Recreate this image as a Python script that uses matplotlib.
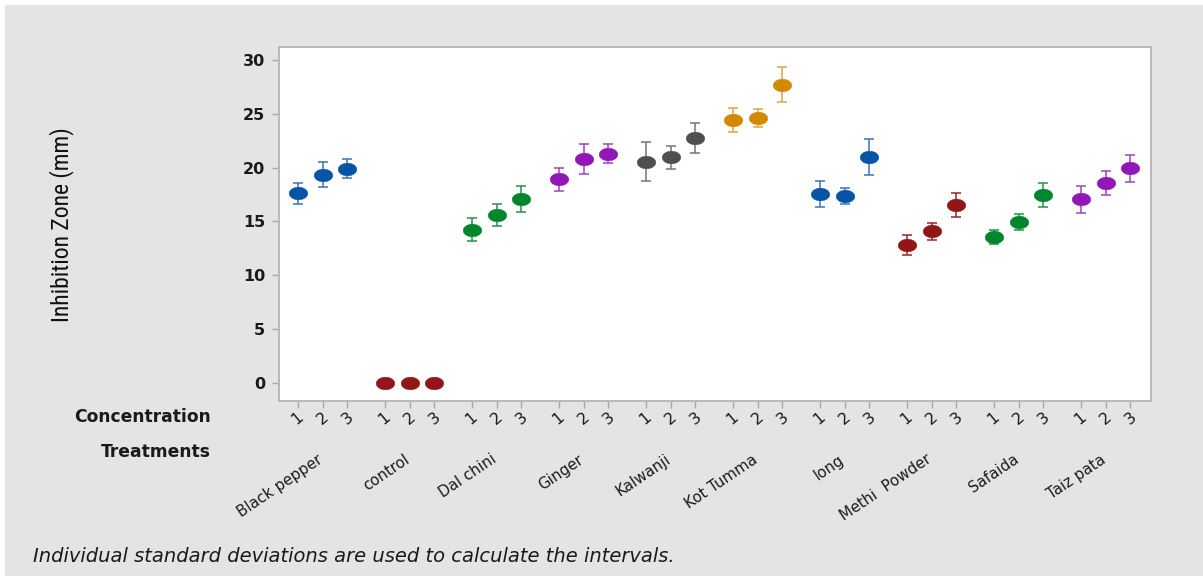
import numpy as np
import matplotlib
matplotlib.use("Agg")
import matplotlib.pyplot as plt
from matplotlib.path import Path
from matplotlib.patches import Rectangle
from matplotlib.transforms import blended_transform_factory
from matplotlib import font_manager

# ---- data -------------------------------------------------------------
treatments = ["Black pepper", "control", "Dal chini", "Ginger", "Kalwanji",
              "Kot Tumma", "long", "Methi  Powder", "Safaida", "Taiz pata"]
concentrations = ["1", "2", "3"]

# mean inhibition zone (mm) for concentrations 1, 2, 3
bp_mean = [17.6, 19.35, 19.9]
ctl_mean = [0.0, 0.0, 0.0]
dc_mean = [14.25, 15.6, 17.1]
gin_mean = [18.9, 20.8, 21.3]
kal_mean = [20.55, 20.95, 22.75]
kt_mean = [24.4, 24.6, 27.7]
long_mean = [17.55, 17.4, 21.0]
met_mean = [12.8, 14.1, 16.5]
saf_mean = [13.55, 14.95, 17.45]
tp_mean = [17.05, 18.6, 19.95]

# half-widths of the intervals
bp_ci = [1.0, 1.15, 0.9]
ctl_ci = [0.0, 0.0, 0.0]
dc_ci = [1.1, 1.05, 1.2]
gin_ci = [1.05, 1.4, 0.9]
kal_ci = [1.8, 1.1, 1.4]
kt_ci = [1.1, 0.8, 1.65]
long_ci = [1.25, 0.75, 1.7]
met_ci = [0.9, 0.8, 1.1]
saf_ci = [0.65, 0.7, 1.1]
tp_ci = [1.25, 1.1, 1.25]

y_ticks = [0, 5, 10, 15, 20, 25, 30]
y_label = "Inhibition Zone (mm)"
footnote = "Individual standard deviations are used to calculate the intervals."

means = [bp_mean, ctl_mean, dc_mean, gin_mean, kal_mean,
         kt_mean, long_mean, met_mean, saf_mean, tp_mean]
cis = [bp_ci, ctl_ci, dc_ci, gin_ci, kal_ci,
       kt_ci, long_ci, met_ci, saf_ci, tp_ci]

# ---- styling ----------------------------------------------------------
palette = ["#0554a6", "#931517", "#00862b", "#9217b7", "#4f4f4f", "#d48900"]
bar_palette = ["#3a74bc", "#a02024", "#1f9444", "#a53ec6", "#747474", "#e0a43a"]

available = {f.name for f in font_manager.fontManager.ttflist}


def pick(*names):
    for n in names:
        if n in available:
            return n
    return "DejaVu Sans"


ui_font = "DejaVu Sans"
narrow_font = pick("Liberation Sans Narrow", "Roboto Condensed", "Liberation Sans")

W, H = 1203, 576
fig = plt.figure(figsize=(W / 100, H / 100), dpi=100, facecolor="white")
fig.patches.append(Rectangle((5 / W, 0), 1 - 5 / W, 1 - 5 / H,
                             transform=fig.transFigure, facecolor="#e4e4e4",
                             edgecolor="none", zorder=-10))

left, right, top, bottom = 279, 1151, 47, 401
ax = fig.add_axes([left / W, 1 - bottom / H, (right - left) / W, (bottom - top) / H])
ax.set_facecolor("white")

# elliptical marker (wider than tall)
t = np.linspace(0, 2 * np.pi, 60)
ellipse = Path(np.column_stack([np.cos(t), 0.68 * np.sin(t)]), closed=False)

gap = 3.5
xticks, xlabels = [], []
for g, (m, c) in enumerate(zip(means, cis)):
    xs = g * gap + np.arange(len(concentrations))
    col = palette[g % len(palette)]
    bcol = bar_palette[g % len(bar_palette)]
    if max(c) > 0:
        ax.errorbar(xs, m, yerr=c, fmt="none", ecolor=bcol, elinewidth=1.1,
                    capsize=3.3, capthick=1.1, zorder=2)
    ax.plot(xs, m, linestyle="none", marker=ellipse, markersize=13.4,
            markerfacecolor=col, markeredgecolor=col, markeredgewidth=0.3,
            zorder=3)
    xticks.extend(xs)
    xlabels.extend(concentrations)

ax.set_xlim(-0.75, 34.33)
ax.set_ylim(-1.67, 31.2)
ax.set_yticks(y_ticks)
ax.set_yticklabels([str(v) for v in y_ticks], fontfamily=ui_font,
                   fontweight="semibold", fontsize=11.5, color="#1a1a1a")
ax.set_xticks(xticks)
ax.set_xticklabels(xlabels, rotation=40, ha="center", fontfamily=ui_font,
                   fontsize=11.5, color="#1a1a1a")

for side in ["top", "right", "left", "bottom"]:
    ax.spines[side].set_color("#b4b4b4")
    ax.spines[side].set_linewidth(1.3)
ax.tick_params(axis="both", color="#a8a8a8", length=5, width=1.0)
ax.tick_params(axis="y", pad=5)
ax.tick_params(axis="x", pad=1.0)

# y-axis title
fig.text(62 / W, 1 - 225 / H, y_label, rotation=90, ha="center", va="center",
         fontfamily=narrow_font, fontsize=17, color="#111111")

# row headers below the axis
fig.text(211 / W, 1 - 417 / H, "Concentration", ha="right", va="center",
         fontfamily=ui_font, fontweight="semibold", fontsize=12.3, color="#1a1a1a")
fig.text(211 / W, 1 - 452 / H, "Treatments", ha="right", va="center",
         fontfamily=ui_font, fontweight="semibold", fontsize=12.3, color="#1a1a1a")

# treatment names, rotated under each group
tr = blended_transform_factory(ax.transData, fig.transFigure)
for g, name in enumerate(treatments):
    cx = g * gap + 1 - 0.06
    ax.text(cx, 1 - 458 / H, name, transform=tr, rotation=34,
            rotation_mode="anchor", ha="right", va="center",
            fontfamily=ui_font, fontsize=10.8, color="#1a1a1a")

fig.text(33 / W, 1 - 557 / H, footnote, ha="left", va="center",
         fontfamily=ui_font, fontstyle="italic", fontsize=14, color="#1a1a1a")

fig.savefig("out.png", dpi=100, facecolor=fig.get_facecolor())
